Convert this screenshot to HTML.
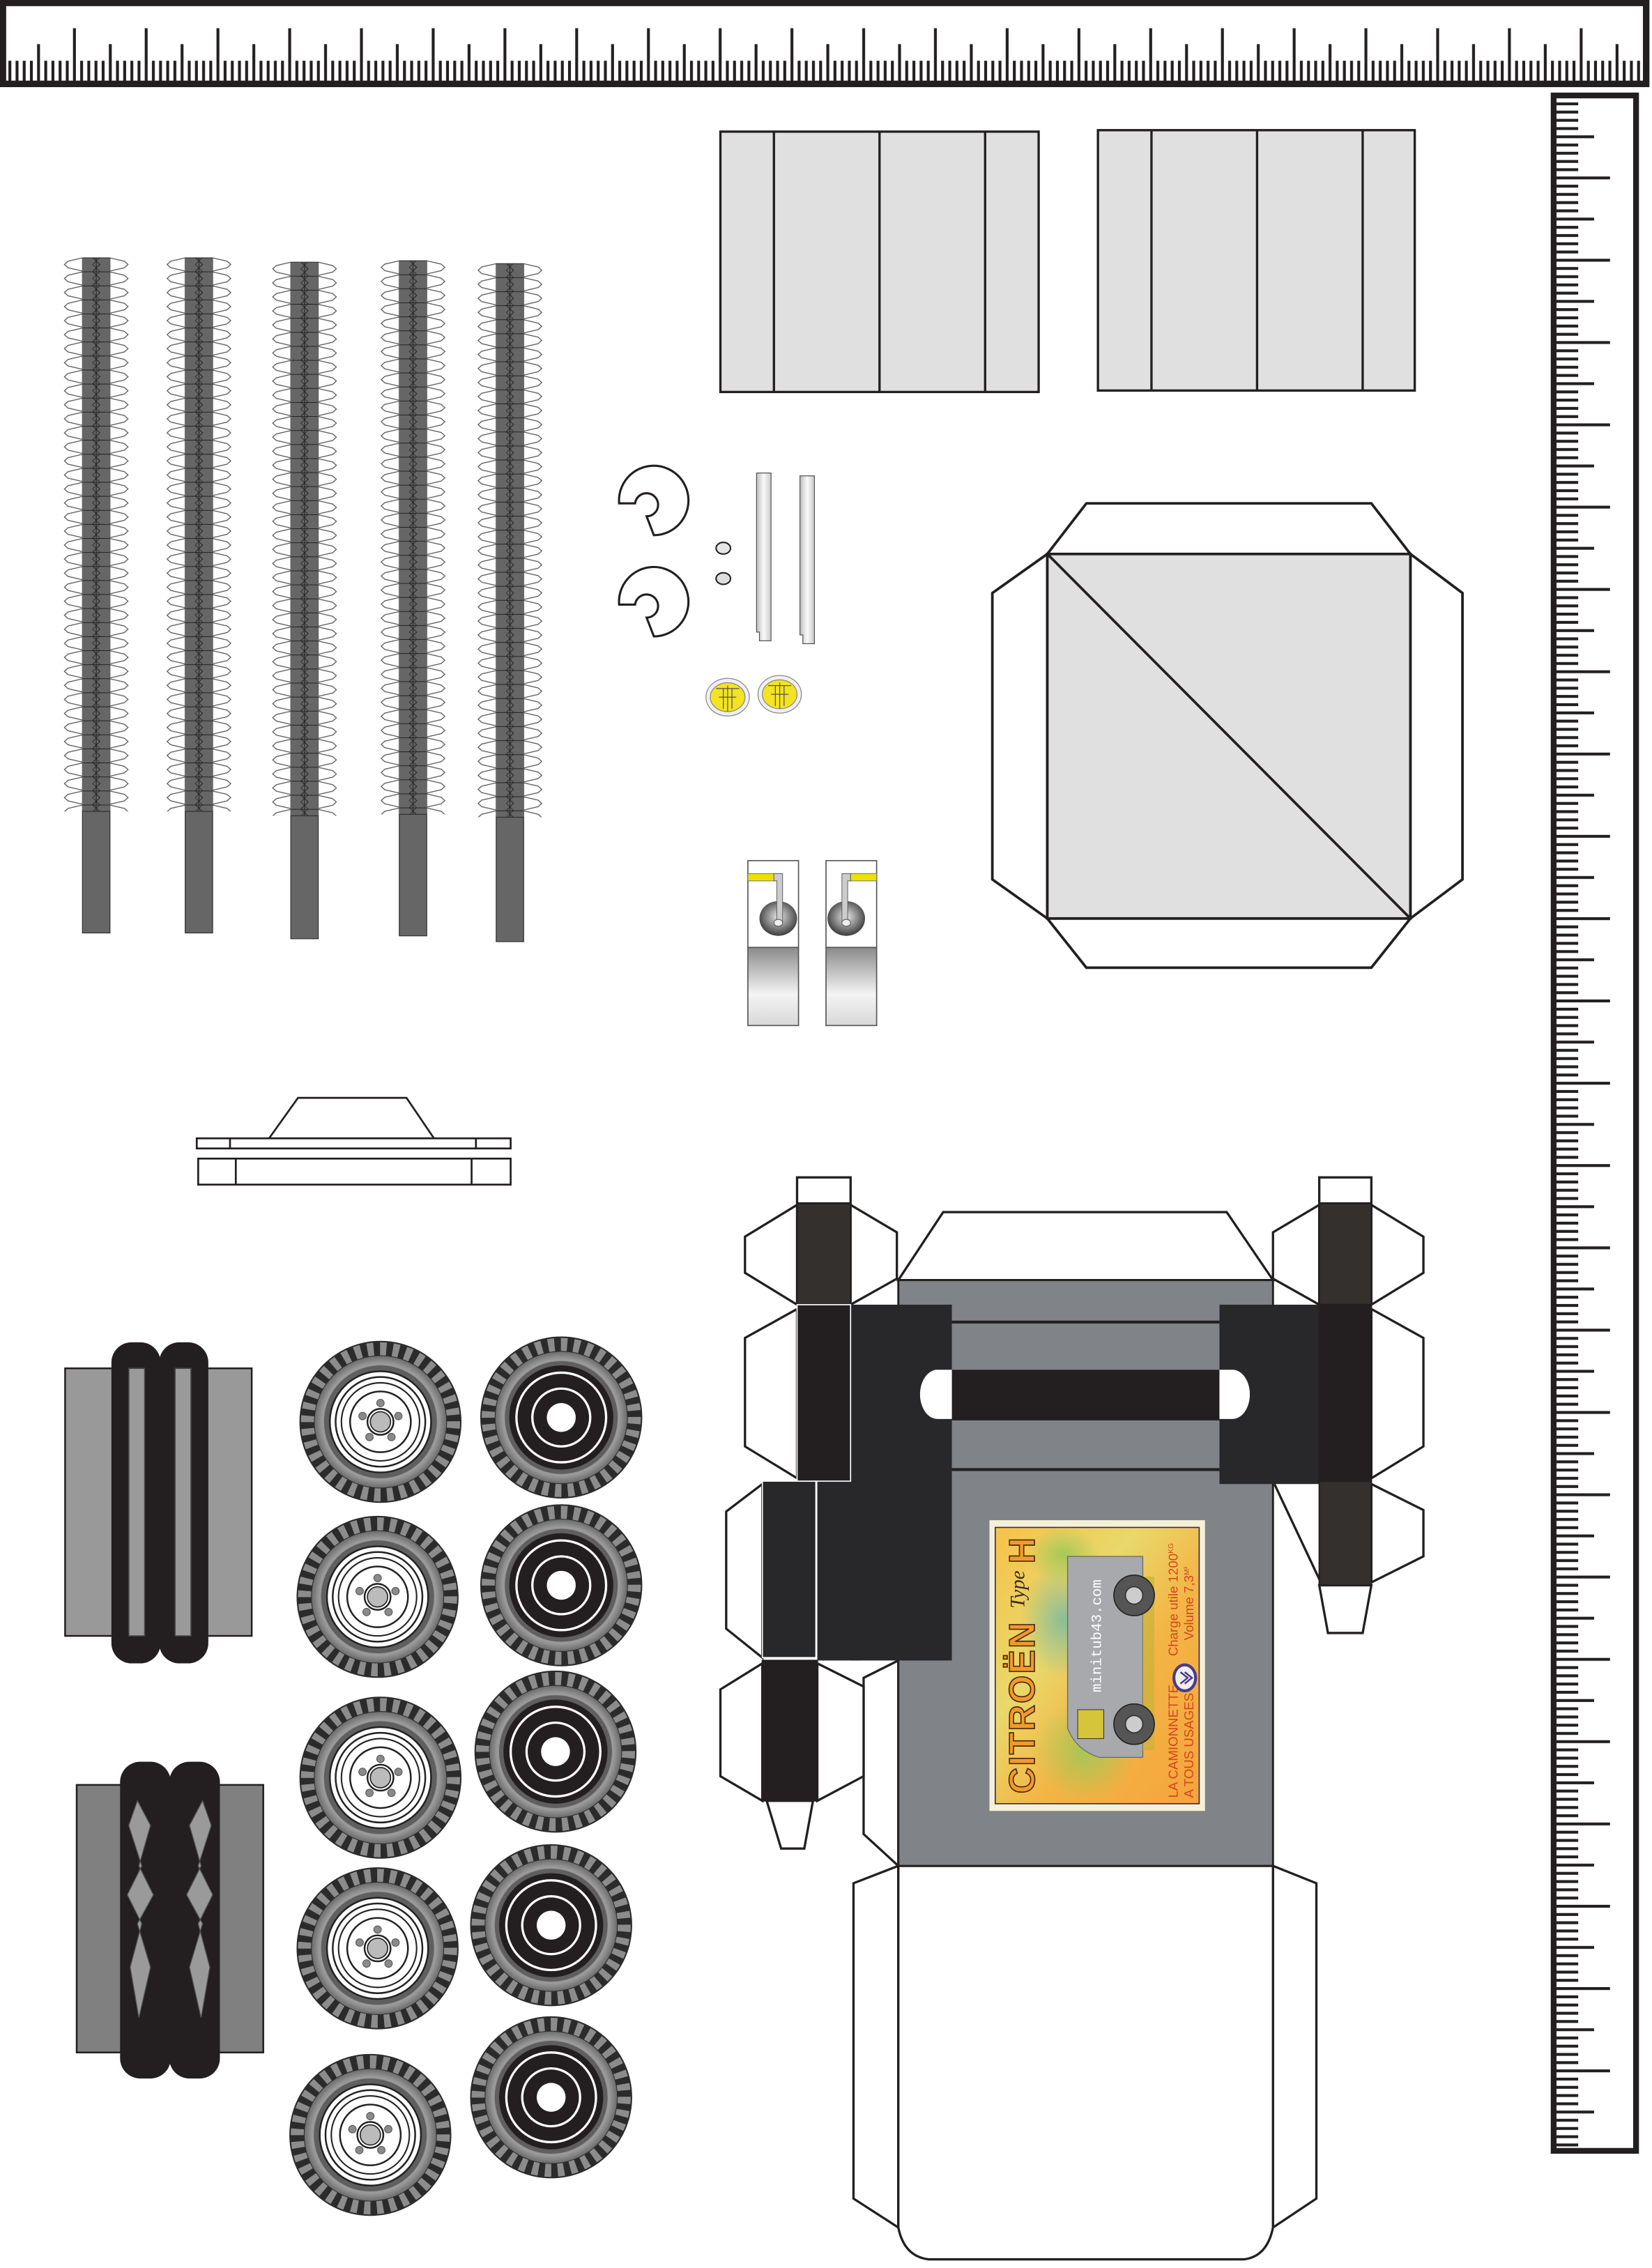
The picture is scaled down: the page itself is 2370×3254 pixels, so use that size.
<!DOCTYPE html>
<html><head><meta charset="utf-8"><style>
html,body{margin:0;padding:0;background:#fff;}
svg{display:block;}
</style></head><body>
<svg xmlns="http://www.w3.org/2000/svg" width="2370" height="3254" viewBox="0 0 1142 1568" font-family="Liberation Sans, sans-serif">
<defs>
  <pattern id="hticks" patternUnits="userSpaceOnUse" x="4.32" y="0" width="49.6" height="61">
    <rect x="1.48" y="42" width="2" height="16" fill="#231f20"/>
    <rect x="6.44" y="42" width="2" height="16" fill="#231f20"/>
    <rect x="11.4" y="42" width="2" height="16" fill="#231f20"/>
    <rect x="16.36" y="42" width="2" height="16" fill="#231f20"/>
    <rect x="21.32" y="30.5" width="2" height="27" fill="#231f20"/>
    <rect x="26.28" y="42" width="2" height="16" fill="#231f20"/>
    <rect x="31.24" y="42" width="2" height="16" fill="#231f20"/>
    <rect x="36.2" y="42" width="2" height="16" fill="#231f20"/>
    <rect x="41.16" y="42" width="2" height="16" fill="#231f20"/>
    <rect x="46.12" y="19.5" width="2" height="38" fill="#231f20"/>
  </pattern>
  <pattern id="vticks" patternUnits="userSpaceOnUse" x="1070" y="68.95" width="70" height="56.9">
    <rect x="5" y="1.85" width="16" height="2" fill="#231f20"/>
    <rect x="5" y="7.54" width="16" height="2" fill="#231f20"/>
    <rect x="5" y="13.23" width="16" height="2" fill="#231f20"/>
    <rect x="5" y="18.92" width="16" height="2" fill="#231f20"/>
    <rect x="5" y="24.61" width="27" height="2" fill="#231f20"/>
    <rect x="5" y="30.3" width="16" height="2" fill="#231f20"/>
    <rect x="5" y="35.99" width="16" height="2" fill="#231f20"/>
    <rect x="5" y="41.68" width="16" height="2" fill="#231f20"/>
    <rect x="5" y="47.37" width="16" height="2" fill="#231f20"/>
    <rect x="5" y="53.06" width="38" height="2" fill="#231f20"/>
  </pattern>
  <pattern id="strip" patternUnits="userSpaceOnUse" x="0" y="0" width="46" height="9.7">
    <polygon points="13,0.3 3,2.6 0.5,4.85 3,7.1 13,9.4" fill="#fff" stroke="#555" stroke-width="0.6"/>
    <polygon points="32,0.3 42,2.6 44.5,4.85 42,7.1 32,9.4" fill="#fff" stroke="#555" stroke-width="0.6"/>
    <rect x="13" y="0" width="19" height="9.7" fill="#666"/>
    <line x1="13" y1="0.2" x2="32" y2="0.2" stroke="#222" stroke-width="0.6"/>
    <line x1="22.5" y1="0" x2="22.5" y2="9.7" stroke="#222" stroke-width="0.5"/>
    <polyline points="20,0 25,4.85 20,9.7" fill="none" stroke="#222" stroke-width="0.5"/>
    <polyline points="25,0 20,4.85 25,9.7" fill="none" stroke="#222" stroke-width="0.4"/>
  </pattern>
  <radialGradient id="rim" cx="50%" cy="50%" r="50%">
    <stop offset="0.75" stop-color="#5a5a5a"/>
    <stop offset="0.88" stop-color="#9c9c9c"/>
    <stop offset="1" stop-color="#6d6d6d"/>
  </radialGradient>
  <radialGradient id="lampball" cx="50%" cy="45%" r="55%">
    <stop offset="0" stop-color="#e8e8e8"/>
    <stop offset="1" stop-color="#3c3c3c"/>
  </radialGradient>
  <linearGradient id="lampbot" x1="0" y1="0" x2="0" y2="1">
    <stop offset="0" stop-color="#8a8a8a"/>
    <stop offset="0.6" stop-color="#f4f4f4"/>
    <stop offset="1" stop-color="#d8d8d8"/>
  </linearGradient>
  <linearGradient id="rod" x1="0" y1="0" x2="1" y2="0">
    <stop offset="0" stop-color="#bdbdbd"/>
    <stop offset="0.5" stop-color="#fafafa"/>
    <stop offset="1" stop-color="#c8c8c8"/>
  </linearGradient>
  <linearGradient id="poster" x1="0" y1="0" x2="1" y2="1">
    <stop offset="0" stop-color="#f6c24a"/>
    <stop offset="0.35" stop-color="#e9d86a"/>
    <stop offset="0.6" stop-color="#f3b545"/>
    <stop offset="1" stop-color="#f4a43c"/>
  </linearGradient>
  <radialGradient id="green" cx="50%" cy="50%" r="50%">
    <stop offset="0" stop-color="#9cc95a" stop-opacity="0.9"/>
    <stop offset="1" stop-color="#9cc95a" stop-opacity="0"/>
  </radialGradient>
  <radialGradient id="blue" cx="50%" cy="50%" r="50%">
    <stop offset="0" stop-color="#79b9a0" stop-opacity="0.85"/>
    <stop offset="1" stop-color="#79b9a0" stop-opacity="0"/>
  </radialGradient>

  <g id="tire">
    <circle r="56" fill="#2b2b2b"/>
    <circle r="50.5" fill="none" stroke="#8c8c8c" stroke-width="9" stroke-dasharray="4.4 4.4"/>
    <circle r="45.5" fill="url(#rim)"/>
    <circle r="39" fill="#5f5f5f"/>
  </g>
  <g id="wheelA">
    <use href="#tire"/>
    <circle r="35" fill="#fff" stroke="#222" stroke-width="1.2"/>
    <circle r="31" fill="none" stroke="#222" stroke-width="1.2"/>
    <circle r="27" fill="none" stroke="#222" stroke-width="1"/>
    <circle r="21" fill="none" stroke="#222" stroke-width="1.2"/>
    <circle r="9" fill="none" stroke="#222" stroke-width="1.2"/>
    <circle r="7" fill="#bbb" stroke="#222" stroke-width="0.8"/>
    <circle cx="0" cy="-13" r="2.6" fill="#8a8a8a" stroke="#555" stroke-width="0.5"/>
    <circle cx="12.4" cy="-4" r="2.6" fill="#8a8a8a" stroke="#555" stroke-width="0.5"/>
    <circle cx="7.6" cy="10.5" r="2.6" fill="#8a8a8a" stroke="#555" stroke-width="0.5"/>
    <circle cx="-7.6" cy="10.5" r="2.6" fill="#8a8a8a" stroke="#555" stroke-width="0.5"/>
    <circle cx="-12.4" cy="-4" r="2.6" fill="#8a8a8a" stroke="#555" stroke-width="0.5"/>
  </g>
  <g id="wheelB">
    <use href="#tire"/>
    <circle r="36" fill="#231f20"/>
    <circle r="31" fill="none" stroke="#fff" stroke-width="1.6"/>
    <circle r="20" fill="none" stroke="#fff" stroke-width="1.6"/>
    <circle r="10" fill="#fff"/>
  </g>
</defs>

<!-- top ruler -->
<rect x="2" y="2" width="1136" height="56" fill="#fff" stroke="#231f20" stroke-width="4.5"/>
<rect x="4" y="18" width="1132" height="40" fill="url(#hticks)"/>

<!-- right ruler -->
<rect x="1074" y="66" width="57" height="1421" fill="#fff" stroke="#231f20" stroke-width="4"/>
<rect x="1076" y="69" width="50" height="1417" fill="url(#vticks)"/>

<!-- strips -->
<g transform="translate(44,178)"><rect x="0" y="0" width="46" height="383" fill="url(#strip)"/><rect x="13" y="383" width="19" height="84" fill="#666" stroke="#333" stroke-width="0.6"/></g>
<g transform="translate(115,178)"><rect x="0" y="0" width="46" height="383" fill="url(#strip)"/><rect x="13" y="383" width="19" height="84" fill="#666" stroke="#333" stroke-width="0.6"/></g>
<g transform="translate(188,181)"><rect x="0" y="0" width="46" height="383" fill="url(#strip)"/><rect x="13" y="383" width="19" height="85" fill="#666" stroke="#333" stroke-width="0.6"/></g>
<g transform="translate(263,180)"><rect x="0" y="0" width="46" height="383" fill="url(#strip)"/><rect x="13" y="383" width="19" height="84" fill="#666" stroke="#333" stroke-width="0.6"/></g>
<g transform="translate(330,182)"><rect x="0" y="0" width="46" height="383" fill="url(#strip)"/><rect x="13" y="383" width="19" height="86" fill="#666" stroke="#333" stroke-width="0.6"/></g>

<!-- gray panels -->
<g fill="#e0e0e0" stroke="#231f20" stroke-width="1.6">
  <rect x="498" y="91" width="220" height="180"/>
  <rect x="759" y="90" width="219" height="180"/>
</g>
<g stroke="#231f20" stroke-width="1.6">
  <line x1="535" y1="91" x2="535" y2="271"/><line x1="608" y1="91" x2="608" y2="271"/><line x1="681" y1="91" x2="681" y2="271"/>
  <line x1="796" y1="90" x2="796" y2="270"/><line x1="869" y1="90" x2="869" y2="270"/><line x1="942" y1="90" x2="942" y2="270"/>
</g>

<!-- box net -->
<g stroke="#231f20" stroke-width="1.8" fill="#fff">
  <polygon points="724,383 751,348 948,348 975,383"/>
  <polygon points="724,635 751,669 948,669 975,635"/>
  <polygon points="724,383 686,410 686,608 724,635"/>
  <polygon points="975,383 1011,410 1011,608 975,635"/>
  <rect x="724" y="383" width="251" height="252" fill="#e0e0e0"/>
  <line x1="724" y1="383" x2="975" y2="635"/>
</g>

<!-- small parts -->
<g fill="#fff" stroke="#231f20" stroke-width="1.5">
  <path d="M428,348 A24,24 0 1 1 452,370 L447,357 A8,8 0 1 0 439,348 Z"/>
  <path d="M428,418 A24,24 0 1 1 452,440 L447,427 A8,8 0 1 0 439,418 Z"/>
</g>
<ellipse cx="500" cy="379" rx="5" ry="4" fill="#e6e6e6" stroke="#222" stroke-width="1"/>
<ellipse cx="500" cy="400" rx="5" ry="4" fill="#ddd" stroke="#222" stroke-width="1"/>
<path d="M523,327 H533 V443 H525 V437 H523 Z" fill="url(#rod)" stroke="#555" stroke-width="0.6"/>
<path d="M553,329 H563 V445 H555 V439 H553 Z" fill="url(#rod)" stroke="#555" stroke-width="0.6"/>
<g stroke="#888" stroke-width="0.6">
  <ellipse cx="503" cy="482" rx="15" ry="13" fill="#f0f0f0"/>
  <ellipse cx="503" cy="482" rx="12" ry="10" fill="#f3e320"/>
  <ellipse cx="539" cy="480" rx="15" ry="13" fill="#f0f0f0"/>
  <ellipse cx="539" cy="480" rx="12" ry="10" fill="#f3e320"/>
</g>
<g stroke="#555" stroke-width="0.6" fill="none">
  <path d="M495,476 H511 M497,482 H509 M503,474 V492 M500,476 V490 M506,476 V490"/>
  <path d="M531,474 H547 M533,480 H545 M539,472 V490 M536,474 V488 M542,474 V488"/>
</g>

<!-- lamp pieces -->
<g>
  <rect x="517" y="595" width="35" height="60" fill="#fff" stroke="#555" stroke-width="0.8"/>
  <rect x="517" y="655" width="35" height="54" fill="url(#lampbot)" stroke="#555" stroke-width="0.8"/>
  <rect x="517" y="604" width="18" height="5" fill="#f0e000" stroke="#777" stroke-width="0.5"/>
  <ellipse cx="538" cy="635" rx="13" ry="12" fill="url(#lampball)"/>
  <path d="M535,604 H541 V637 H537 V609 H535 Z" fill="#ccc" stroke="#666" stroke-width="0.5"/>
  <ellipse cx="538" cy="638" rx="3" ry="2.4" fill="#eee" stroke="#555" stroke-width="0.5"/>

  <rect x="571" y="595" width="35" height="60" fill="#fff" stroke="#555" stroke-width="0.8"/>
  <rect x="571" y="655" width="35" height="54" fill="url(#lampbot)" stroke="#555" stroke-width="0.8"/>
  <rect x="588" y="604" width="18" height="5" fill="#f0e000" stroke="#777" stroke-width="0.5"/>
  <ellipse cx="585" cy="635" rx="13" ry="12" fill="url(#lampball)"/>
  <path d="M582,604 H588 V609 H586 V637 H582 Z" fill="#ccc" stroke="#666" stroke-width="0.5"/>
  <ellipse cx="585" cy="638" rx="3" ry="2.4" fill="#eee" stroke="#555" stroke-width="0.5"/>
</g>

<!-- bumper piece -->
<g fill="#fff" stroke="#231f20" stroke-width="1.3">
  <polygon points="186,787 206,759 281,759 300,787"/>
  <rect x="136" y="787" width="217" height="7"/>
  <rect x="137" y="801" width="216" height="18"/>
  <line x1="159" y1="787" x2="159" y2="794"/><line x1="329" y1="787" x2="329" y2="794"/>
  <line x1="163" y1="801" x2="163" y2="819"/><line x1="326" y1="801" x2="326" y2="819"/>
</g>

<!-- tread piece 1 -->
<rect x="45" y="946" width="129" height="185" fill="#999" stroke="#231f20" stroke-width="1.2"/>
<rect x="77" y="928" width="34" height="222" rx="14" fill="#231f20"/>
<rect x="110" y="928" width="34" height="222" rx="14" fill="#231f20"/>
<rect x="89" y="946" width="11" height="185" fill="#9a9a9a" stroke="#444" stroke-width="0.8"/>
<rect x="121" y="946" width="11" height="185" fill="#9a9a9a" stroke="#444" stroke-width="0.8"/>

<!-- tread piece 2 -->
<rect x="53" y="1234" width="129" height="185" fill="#808080" stroke="#231f20" stroke-width="1.2"/>
<rect x="83" y="1218" width="35" height="219" rx="14" fill="#231f20"/>
<rect x="117" y="1218" width="35" height="219" rx="14" fill="#231f20"/>
<g fill="#9a9a9a" stroke="#555" stroke-width="0.6">
  <path d="M95,1245 L104,1262 L96,1290 L106,1310 L95,1330 L104,1360 L96,1395 L90,1360 L98,1330 L88,1310 L98,1290 L89,1262 Z"/>
  <path d="M140,1245 L131,1262 L139,1290 L129,1310 L140,1330 L131,1360 L139,1395 L145,1360 L137,1330 L147,1310 L137,1290 L146,1262 Z"/>
</g>

<!-- wheels -->
<use href="#wheelA" x="263" y="983"/>
<use href="#wheelA" x="261" y="1104"/>
<use href="#wheelA" x="263" y="1229"/>
<use href="#wheelA" x="261" y="1347"/>
<use href="#wheelA" x="256" y="1476"/>
<use href="#wheelB" x="388" y="980"/>
<use href="#wheelB" x="388" y="1096"/>
<use href="#wheelB" x="384" y="1211"/>
<use href="#wheelB" x="381" y="1331"/>
<use href="#wheelB" x="381" y="1450"/>

<!-- chassis -->
<g stroke="#231f20" stroke-width="1.6" fill="#fff">
  <!-- lower white body -->
  <polygon points="621,1290 590,1302 590,1520 621,1540"/>
  <polygon points="880,1290 910,1302 910,1520 880,1540"/>
  <path d="M621,1290 H880 V1540 Q876,1560 860,1562 H642 Q625,1560 621,1540 Z"/>
  <!-- top trapezoid -->
  <polygon points="621,885 652,838 848,838 880,885"/>
  <!-- left side flap below -->
  <polygon points="621,1148 597,1160 597,1268 621,1290"/>
  <!-- left hexes -->
  <polygon points="551,833 515,855 515,880 551,902"/>
  <polygon points="588,833 620,852 620,884 588,902"/>
  <polygon points="551,905 515,925 515,1000 551,1022"/>
  <polygon points="527,1026 502,1045 502,1126 527,1146"/>
  <polygon points="527,1150 498,1168 498,1228 527,1245"/>
  <polygon points="565,1150 597,1166 597,1228 565,1245"/>
  <polygon points="530,1245 540,1278 556,1278 562,1245"/>
  <rect x="551" y="814" width="37" height="18"/>
  <!-- right hexes -->
  <polygon points="948,833 984,855 984,880 948,902"/>
  <polygon points="912,833 880,852 880,884 912,902"/>
  <polygon points="948,905 984,925 984,1000 948,1022"/>
  <polygon points="948,1026 984,1044 984,1076 948,1094"/>
  <polygon points="912,1096 918,1129 942,1129 948,1096"/>
  <rect x="912" y="814" width="36" height="18"/>
  <line x1="881" y1="1026" x2="914" y2="1096"/>
</g>
<rect x="621" y="885" width="259" height="405" fill="#808387" stroke="#231f20" stroke-width="1.4"/>
<line x1="658" y1="914" x2="843" y2="914" stroke="#231f20" stroke-width="2"/>
<line x1="658" y1="1016" x2="843" y2="1016" stroke="#231f20" stroke-width="2"/>
<!-- black blocks -->
<rect x="588" y="902" width="70" height="246" fill="#28272a"/>
<rect x="843" y="902" width="69" height="124" fill="#28272a"/>
<rect x="565" y="1024" width="30" height="124" fill="#28272a"/>
<rect x="527" y="1024" width="37" height="122" fill="#28272a" stroke="#fff" stroke-width="0.8"/>
<rect x="551" y="832" width="37" height="70" fill="#33302e" stroke="#231f20" stroke-width="1"/>
<rect x="551" y="902" width="37" height="122" fill="#231f20" stroke="#fff" stroke-width="0.8"/>
<rect x="527" y="1148" width="38" height="97" fill="#231f20" stroke="#231f20" stroke-width="1"/>
<rect x="912" y="832" width="36" height="70" fill="#33302e" stroke="#231f20" stroke-width="1"/>
<rect x="912" y="902" width="36" height="122" fill="#231f20" stroke="#231f20" stroke-width="1"/>
<rect x="912" y="1024" width="36" height="72" fill="#33302e" stroke="#231f20" stroke-width="1"/>
<!-- slot -->
<rect x="658" y="947" width="185" height="35" fill="#231f20"/>
<path d="M658,947 H648 A12,17 0 0 0 648,981 H658 Z" fill="#fff"/>
<path d="M843,947 H852 A12,17 0 0 1 852,981 H843 Z" fill="#fff"/>

<!-- poster -->
<rect x="684" y="1051" width="149" height="201" fill="#f5f1d8"/>
<rect x="688" y="1056" width="141" height="191" fill="url(#poster)" stroke="#3a2a5a" stroke-width="0.8"/>
<ellipse cx="735" cy="1120" rx="30" ry="40" fill="url(#blue)"/>
<ellipse cx="750" cy="1210" rx="35" ry="35" fill="url(#green)"/>
<ellipse cx="735" cy="1075" rx="25" ry="20" fill="url(#green)"/>
<!-- van -->
<path d="M738,1076 H790 V1215 H760 Q744,1210 738,1195 Z" fill="#a7a9ac" stroke="#666" stroke-width="0.6"/>
<rect x="790" y="1090" width="8" height="120" fill="#c9b23a" opacity="0.7"/>
<circle cx="784" cy="1103" r="14" fill="#555" stroke="#222" stroke-width="0.8"/>
<circle cx="784" cy="1103" r="6" fill="#ccc" stroke="#333" stroke-width="0.8"/>
<circle cx="784" cy="1192" r="14" fill="#555" stroke="#222" stroke-width="0.8"/>
<circle cx="784" cy="1192" r="6" fill="#ccc" stroke="#333" stroke-width="0.8"/>
<rect x="745" y="1182" width="18" height="20" fill="#d6c43a" stroke="#333" stroke-width="0.5"/>
<text transform="translate(761,1170) rotate(-90)" font-family="Liberation Mono, monospace" font-size="10" fill="#fff">minitub43.com</text>
<text transform="translate(715,1240) rotate(-90)" font-size="25" font-weight="bold" fill="#f39a2c" stroke="#4a2a10" stroke-width="0.8" letter-spacing="1">CITROËN</text>
<text transform="translate(708,1112) rotate(-90)" font-family="Liberation Serif, serif" font-style="italic" font-size="14" fill="#3a2a20">Type</text>
<text transform="translate(715,1081) rotate(-90)" font-size="25" font-weight="bold" fill="#f39a2c" stroke="#4a2a10" stroke-width="0.8">H</text>
<text transform="translate(814,1243) rotate(-90)" font-size="9" fill="#d2461e">LA CAMIONNETTE</text>
<text transform="translate(825,1243) rotate(-90)" font-size="9" fill="#d2461e">A TOUS USAGES</text>
<text transform="translate(814,1145) rotate(-90)" font-size="9" fill="#d2461e">Charge utile 1200<tspan font-size="5" dy="-3">KG</tspan></text>
<text transform="translate(825,1134) rotate(-90)" font-size="9" fill="#d2461e">Volume 7,3<tspan font-size="5" dy="-3">M³</tspan></text>
<ellipse cx="819" cy="1160" rx="7.5" ry="9" fill="#eee" stroke="#4a3a8a" stroke-width="2"/>
<path d="M816,1156 L821,1160 L816,1164 M819,1156 L824,1160 L819,1164" fill="none" stroke="#4a3a8a" stroke-width="1.2"/>
</svg>
</body></html>
